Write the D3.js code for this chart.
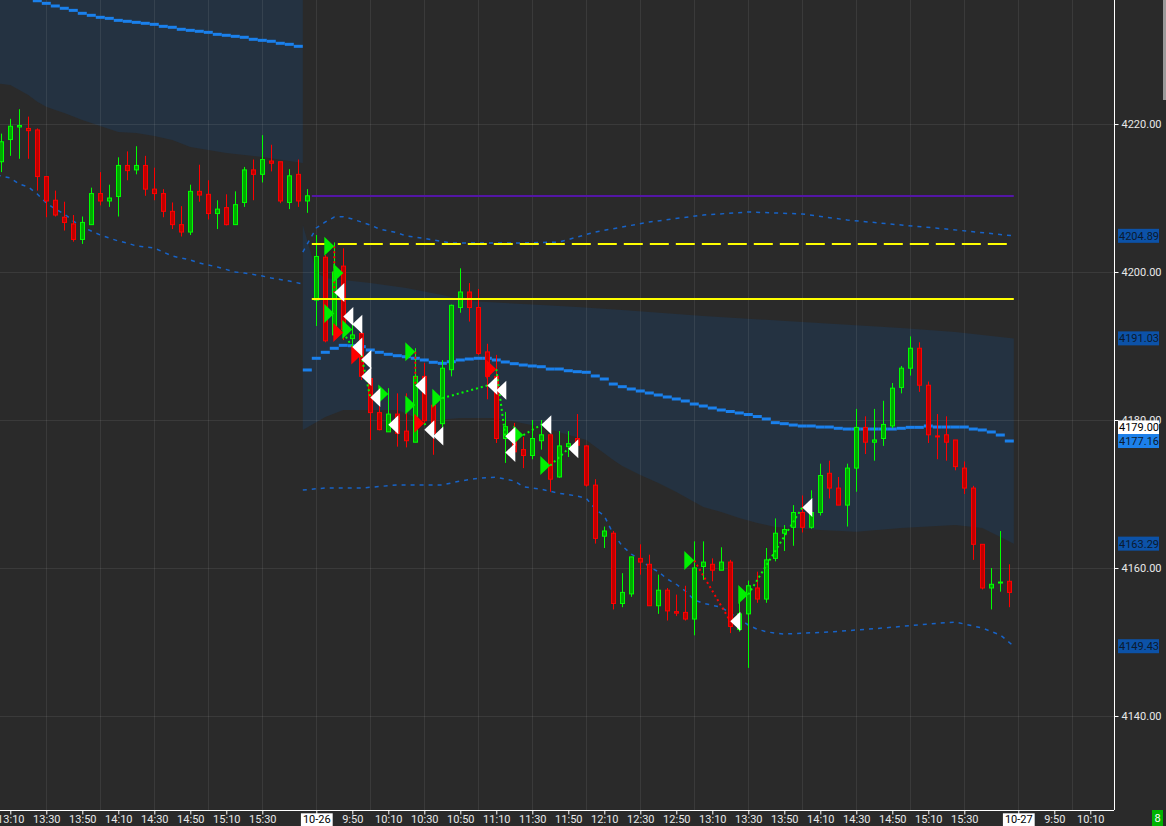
<!DOCTYPE html>
<html>
<head>
<meta charset="utf-8">
<script src="https://cdn.jsdelivr.net/npm/d3@7"></script>
<style>
  html, body { margin: 0; padding: 0; background: #2a2a2a; }
  svg { display: block; }
  .axis text { font-family: Roboto, "Noto Sans", sans-serif; font-size: 11px; fill: #e8e8e8; }
  .axis path, .axis line { stroke: #ffffff; }
  .tag { font-family: Roboto, "Noto Sans", sans-serif; font-size: 11px; }
</style>
</head>
<body>
<div class="chart"></div>
<script>
// 5 minute bars, slot 0 = 10-25 13:05, slot 35 = 10-26 09:30, slot 113 = 10-27 09:30
const open = [4214.9,4217.9,4219.6,4219.4,4219.2,4212.9,4209.7,4207.4,4206.5,4204.4,4206.4,4210.6,4209.6,4210.2,4214.4,4213.8,4214.4,4211.2,4210.6,4208.2,
  4206.4,4205.4,4210.9,4210.5,4207.9,4208.7,4206.4,4209.4,4213.8,4213.2,4215.0,4214.9,4209.4,4213.2,4209.6,
  4196.2,4202.0,4191.5,4200.8,4191.0,4191.7,4185.6,4181.0,4178.4,4180.8,4178.5,4177.0,4185.9,4182.0,4179.5,
  4186.8,4195.2,4197.3,4195.2,4189.2,4185.9,4177.5,4178.7,4176.0,4175.2,4177.2,4178.0,4172.3,4176.4,4177.5,
  4176.5,4171.2,4164.3,4164.7,4155.2,4156.5,4161.3,4160.5,4154.9,4157.0,4154.1,4154.0,4153.1,4160.2,4160.5,
  4159.7,4160.8,4151.7,4153.8,4157.3,4155.8,4161.3,4164.7,4165.5,4167.5,4165.5,4167.5,4172.8,4170.8,4168.5,
  4173.5,4179.0,4177.0,4177.5,4179.2,4184.4,4187.0,4189.7,4184.7,4177.85,4178.0,4177.3,4173.5,4170.8,4163.2,
  4157.3,4158.0,4158.2];
const high = [4218.7,4220.7,4222.0,4221.0,4219.4,4212.9,4211.0,4209.5,4207.7,4207.5,4211.4,4213.5,4211.8,4215.5,4216.3,4217.0,4215.7,4214.1,4211.2,4209.4,
  4208.9,4211.8,4214.5,4212.4,4209.7,4210.5,4210.9,4214.2,4215.2,4218.5,4217.2,4214.9,4213.9,4215.2,4211.2,
  4205.0,4202.3,4204.0,4203.2,4193.0,4192.0,4186.8,4184.5,4184.3,4183.6,4183.6,4189.7,4187.7,4183.5,4188.1,
  4195.6,4200.5,4198.5,4197.7,4190.3,4188.8,4181.1,4179.6,4177.7,4180.0,4180.0,4178.0,4178.5,4178.5,4180.8,
  4176.6,4172.0,4165.6,4165.0,4159.3,4161.5,4163.2,4161.8,4159.1,4157.3,4156.4,4157.6,4163.6,4163.6,4161.3,
  4162.8,4161.1,4156.0,4158.3,4159.5,4162.7,4166.7,4165.8,4168.5,4169.8,4170.5,4174.1,4174.5,4172.3,4174.1,
  4181.5,4180.5,4181.5,4182.6,4185.0,4187.3,4191.3,4190.5,4185.2,4180.8,4180.5,4177.3,4174.4,4171.1,4163.2,
  4160.0,4165.0,4160.5];
const low = [4213.5,4215.7,4215.3,4215.3,4211.0,4207.4,4207.5,4205.6,4204.1,4203.8,4206.4,4209.0,4208.8,4207.5,4212.4,4213.2,4210.3,4209.7,4207.4,4205.8,
  4204.8,4205.0,4209.5,4207.1,4205.8,4206.3,4206.4,4208.8,4209.7,4212.1,4213.6,4209.3,4208.5,4208.8,4208.0,
  4192.7,4190.5,4190.9,4190.8,4189.5,4185.4,4177.3,4178.6,4178.4,4176.4,4176.3,4177.0,4179.5,4175.3,4178.5,
  4185.9,4194.5,4193.3,4188.8,4182.8,4176.9,4174.2,4175.7,4173.5,4174.7,4176.0,4170.3,4172.2,4175.0,4175.5,
  4171.0,4163.3,4162.7,4154.4,4154.7,4156.1,4159.1,4154.9,4153.8,4152.9,4153.5,4152.9,4150.9,4158.4,4158.2,
  4159.7,4151.2,4151.4,4146.5,4155.3,4155.3,4160.9,4162.3,4163.0,4164.8,4165.3,4167.1,4169.4,4168.5,4165.6,
  4170.3,4175.4,4174.5,4176.5,4178.9,4183.6,4186.0,4183.8,4176.9,4174.7,4174.5,4173.2,4170.0,4161.1,4157.1,
  4154.4,4156.8,4154.7];
const close = [4217.6,4219.7,4219.8,4219.1,4212.9,4209.6,4207.7,4206.7,4204.4,4206.7,4210.6,4209.6,4210.0,4214.4,4213.7,4214.4,4211.2,4210.6,4208.2,4206.4,
  4205.4,4210.9,4210.4,4207.9,4208.5,4206.4,4209.1,4213.8,4213.2,4215.2,4214.7,4209.6,4213.0,4209.6,4210.3,
  4202.1,4190.7,4200.0,4192.2,4191.5,4185.9,4181.0,4178.7,4180.8,4178.2,4177.2,4185.9,4179.9,4178.2,4187.0,
  4195.5,4197.3,4195.2,4189.0,4185.9,4177.5,4179.1,4175.7,4175.2,4177.5,4178.0,4172.0,4176.5,4176.8,4176.6,
  4171.2,4164.0,4165.0,4155.2,4156.7,4161.5,4160.8,4154.9,4157.0,4154.2,4153.9,4153.1,4160.0,4160.8,4159.7,
  4160.8,4152.1,4153.8,4157.6,4155.8,4161.1,4164.7,4165.2,4167.5,4165.5,4167.5,4172.5,4170.8,4168.5,4173.5,
  4179.0,4177.0,4177.3,4179.4,4184.3,4187.0,4189.7,4184.7,4178.0,4177.75,4177.0,4173.7,4170.8,4163.2,4157.3,
  4157.8,4158.1,4156.7];

// session VWAP, one value per slot
const vwap1Start = 4;
const vwap1 = [4236.66,4236.31,4235.95,4235.64,4235.36,4234.96,4234.69,4234.42,4234.28,4234.01,4233.88,4233.74,4233.61,4233.47,4233.20,
  4233.07,4232.80,4232.66,4232.53,4232.39,4232.12,4231.99,4231.85,4231.72,4231.45,4231.31,4231.18,4230.91,4230.77,4230.50];
const vwap2Start = 34;
const vwap2 = [4186.76,4188.34,4189.15,4189.69,4190.09,4190.04,4189.91,4189.46,4189.15,4188.88,4188.69,4188.55,4188.34,4188.11,4187.80,
  4187.66,4187.88,4188.11,4188.24,4188.34,4188.34,4188.11,4187.84,4187.61,4187.43,4187.30,4187.20,4186.89,4186.89,4186.66,
  4186.53,4186.45,4185.95,4185.54,4184.86,4184.50,4184.19,4183.92,4183.65,4183.38,4183.11,4182.84,4182.57,4182.16,4181.89,
  4181.62,4181.35,4181.15,4180.95,4180.74,4180.47,4180.14,4179.64,4179.50,4179.32,4179.19,4179.19,4179.05,4179.05,4178.88,
  4178.78,4178.78,4178.78,4178.78,4178.78,4178.78,4178.88,4179.01,4179.01,4179.19,4179.05,4179.05,4179.05,4179.05,4178.78,
  4178.65,4178.38,4177.97,4177.16];

// bands, read at some slots
const day1LowSlots = [0,1,2,3,4,5,6,7,9,13,15,17,19,21,25,29,33];
const day1Low = [4225.50,4225.27,4224.59,4223.92,4223.01,4222.34,4221.89,4221.49,4220.54,4218.92,4218.78,4218.38,4217.84,4216.89,4216.08,4215.54,4214.73];
const day1Low2Slots = [0,1,2,3,4,5,6,7,8,9,10,11,12,13,14,15,17,18,19,21,22,24,26,27,29,30,32,33];
const day1Low2 = [4213.11,4212.70,4211.89,4211.49,4210.54,4209.32,4208.51,4207.84,4206.89,4206.08,4205.54,4205.00,4204.59,4204.19,
  4203.92,4203.51,4203.24,4202.70,4202.16,4201.62,4201.22,4200.68,4200.00,4199.86,4199.46,4199.19,4198.78,4198.38];

const up1Slots = [34,35,36,38,41,45,49,52,56,60,64,69,78,89,100,106,112];
const up1 = [4206.35,4200.00,4199.19,4198.92,4198.51,4197.84,4196.89,4196.08,4195.81,4195.54,4195.27,4194.86,4194.05,4193.24,4192.43,4191.89,4191.03];
const lo1Slots = [34,36,38,44,47,51,55,60,65,68,69,71,73,75,77,78,80,82,84,86,88,91,95,100,106,109,111,112];
const lo1 = [4178.65,4180.41,4181.35,4181.35,4179.86,4180.27,4180.27,4179.05,4177.30,4174.59,4173.78,4172.57,4171.49,4170.27,
  4168.92,4168.24,4167.57,4166.76,4166.08,4165.54,4165.41,4165.14,4164.91,4165.41,4165.81,4165.41,4164.19,4163.29];
const up2Slots = [34,35,36,37,38,39,40,41,42,44,45,47,48,50,53,58,62,66,72,78,83,89,94,100,105,112];
const up2 = [4202.70,4205.95,4206.76,4207.43,4207.47,4207.16,4206.76,4206.35,4205.81,4205.31,4204.86,4204.55,4204.32,
  4203.92,4203.92,4203.92,4204.05,4205.41,4206.76,4207.70,4208.11,4207.84,4207.03,4206.35,4205.81,4204.89];
const lo2Slots = [34,36,40,44,49,51,53,55,57,58,60,62,64,65,66,67,68,69,70,71,72,73,74,75,76,77,78,79,80,81,83,84,85,86,87,92,98,103,106,109,111,112];
const lo2 = [4170.54,4170.81,4170.81,4171.22,4171.22,4171.76,4172.12,4172.26,4171.76,4170.99,4170.64,4170.09,4169.73,4169.42,
  4167.97,4167.03,4164.59,4162.97,4161.89,4161.08,4160.18,4159.50,4158.51,4157.80,4156.89,4155.68,4155.23,4154.96,4154.69,
  4153.88,4152.30,4151.72,4151.39,4151.18,4151.08,4151.35,4151.89,4152.43,4152.70,4151.89,4150.95,4149.43];

// price levels
const purpleLevel = 4210.27;
const yellowDashLevel = 4203.78;
const yellowLevel = 4196.35;

// trade markers
const longBars = [37,38,37,39,43,46,46,49,58,61,77,83];
const longPrices = [4203.47,4199.86,4194.39,4192.23,4183.51,4189.23,4182.03,4182.95,4177.97,4173.85,4161.01,4156.42];
const shortBars = [38,40,47,55];
const shortPrices = [4191.82,4188.78,4179.55,4186.86];
const exitBars = [37,38,39,39,40,40,41,46,43,47,48,54,55,56,56,60,63,81,89];
const exitPrices = [4197.23,4193.99,4192.93,4189.86,4188.18,4185.88,4183.04,4184.66,4179.35,4178.69,4177.84,4184.66,4184.01,
  4177.80,4175.61,4179.36,4176.12,4152.81,4168.18];
// [entry bar, entry price, exit bar, exit price, win]
const trades = [[37,4203.47,37,4197.23,0],[38,4191.82,39,4189.86,1],[40,4188.78,41,4183.04,1],[46,4189.23,46,4184.66,0],
  [47,4179.55,48,4177.84,1],[49,4182.95,54,4184.66,1],[55,4186.86,56,4177.80,1],[58,4177.97,60,4179.36,1],
  [61,4173.85,63,4176.12,1],[77,4161.01,81,4152.81,0],[83,4156.42,89,4168.18,1]];

const yTicks = [4140, 4160, 4180, 4200, 4220];
const tickSlots = [1,5,9,13,17,21,25,29,35,39,43,47,51,55,59,63,67,71,75,79,83,87,91,95,99,103,107,113,117,121];
const tickLabels = ['13:10','13:30','13:50','14:10','14:30','14:50','15:10','15:30','10-26','9:50','10:10','10:30','10:50',
  '11:10','11:30','11:50','12:10','12:30','12:50','13:10','13:30','13:50','14:10','14:30','14:50','15:10','15:30','10-27','9:50','10:10'];
const dateSlots = [35, 113];
const gridSlots = d3.range(5, 122, 6);

const tagValues = [4204.89, 4191.03, 4179.00, 4177.16, 4163.29, 4149.43];
const tagFills = ['#0c52a8', '#0c52a8', '#ffffff', '#1c80ea', '#0c52a8', '#0c52a8'];

const width = 1166, height = 826;
const plotRight = 1114, plotBottom = 810;

const svg = d3.select('.chart')
  .append('svg')
  .attr('width', width)
  .attr('height', height);

svg.append('rect').attr('width', width).attr('height', height).attr('fill', '#2a2a2a');

svg.append('clipPath').attr('id', 'plot')
  .append('rect').attr('width', plotRight).attr('height', plotBottom);

const xScale = d3.scaleLinear().domain([0, 123.5]).range([1.3, 1112.8]);
const yScale = d3.scaleLinear().domain([4127.43, 4236.76]).range([809, 0]);

const g = svg.append('g').attr('clip-path', 'url(#plot)');

const line = d3.line().x(d => xScale(d[0])).y(d => yScale(d[1]));

// point list with the two ends pushed out to the slot edges
function withEdges(slots, vals) {
  return slots.map((s, i) => [i === 0 ? s - 0.5 : (i === slots.length - 1 ? s + 0.5 : s), vals[i]]);
}

// band fills
const yTop = yScale.domain()[1];
const day1Band = [[-0.5, yTop], [33.5, yTop]].concat(withEdges(day1LowSlots, day1Low).reverse());
g.append('path')
  .attr('d', line(day1Band) + 'Z')
  .attr('fill', '#243241');

const day2Band = withEdges(up1Slots, up1).concat(withEdges(lo1Slots, lo1).reverse());
g.append('path')
  .attr('d', line(day2Band) + 'Z')
  .attr('fill', '#243241');

// grid
g.selectAll('.vgrid')
  .data(gridSlots)
  .enter()
  .append('line')
  .attr('x1', d => Math.round(xScale(d)) + 0.5)
  .attr('x2', d => Math.round(xScale(d)) + 0.5)
  .attr('y1', 0)
  .attr('y2', plotBottom)
  .attr('stroke', 'rgba(255,255,255,0.08)');

g.selectAll('.hgrid')
  .data(yTicks)
  .enter()
  .append('line')
  .attr('x1', 0)
  .attr('x2', plotRight)
  .attr('y1', d => Math.round(yScale(d)) + 0.5)
  .attr('y2', d => Math.round(yScale(d)) + 0.5)
  .attr('stroke', 'rgba(255,255,255,0.08)');

// outer bands, dashed
[[day1Low2Slots, day1Low2], [up2Slots, up2], [lo2Slots, lo2]].forEach(b => {
  g.append('path')
    .attr('d', line(withEdges(b[0], b[1])))
    .attr('fill', 'none')
    .attr('stroke', '#1763c8')
    .attr('stroke-width', 1.5)
    .attr('stroke-dasharray', '4,5');
});

// vwap blocks
function drawVwap(start, vals) {
  g.append('g').selectAll('rect')
    .data(vals)
    .enter()
    .append('rect')
    .attr('x', (d, i) => xScale(start + i - 0.5))
    .attr('width', 9)
    .attr('y', d => yScale(d) - 1.5)
    .attr('height', 3)
    .attr('fill', '#1a80ec');
}
drawVwap(vwap1Start, vwap1);
drawVwap(vwap2Start, vwap2);

// candles
const candles = g.append('g').selectAll('g')
  .data(d3.range(open.length))
  .enter()
  .append('g');

const cx = i => Math.round(xScale(i)) + 0.5;
const up = i => close[i] >= open[i];

candles.append('line')
  .attr('x1', cx).attr('x2', cx)
  .attr('y1', i => yScale(high[i]))
  .attr('y2', i => yScale(low[i]))
  .attr('stroke', i => up(i) ? '#00ff00' : '#ff0000');

candles.append('rect')
  .attr('x', i => cx(i) - 2)
  .attr('width', 4)
  .attr('y', i => yScale(Math.max(open[i], close[i])))
  .attr('height', i => Math.max(1, yScale(Math.min(open[i], close[i])) - yScale(Math.max(open[i], close[i]))))
  .attr('fill', i => up(i) ? '#00a800' : '#c00000')
  .attr('stroke', i => up(i) ? '#00ff00' : '#ff0000');

// levels
const lx1 = xScale(34.5), lx2 = xScale(112.5);
g.append('line').attr('x1', lx1).attr('x2', lx2)
  .attr('y1', yScale(purpleLevel)).attr('y2', yScale(purpleLevel))
  .attr('stroke', '#5316a6').attr('stroke-width', 2);
g.append('line').attr('x1', lx1).attr('x2', lx2)
  .attr('y1', yScale(yellowDashLevel)).attr('y2', yScale(yellowDashLevel))
  .attr('stroke', '#ffff00').attr('stroke-width', 2).attr('stroke-dasharray', '19,7');
g.append('line').attr('x1', lx1).attr('x2', lx2)
  .attr('y1', yScale(yellowLevel)).attr('y2', yScale(yellowLevel))
  .attr('stroke', '#ffff00').attr('stroke-width', 2);

// trade lines
g.selectAll('.trade')
  .data(trades)
  .enter()
  .append('line')
  .attr('x1', d => xScale(d[0])).attr('y1', d => yScale(d[1]))
  .attr('x2', d => xScale(d[2])).attr('y2', d => yScale(d[3]))
  .attr('stroke', d => d[4] ? '#00ff00' : '#ff0000')
  .attr('stroke-width', 2)
  .attr('stroke-dasharray', '2,3');

// markers
const rightTri = (x, y) => `M${x - 10},${y - 9.5}L${x},${y}L${x - 10},${y + 9.5}Z`;
const leftTri = (x, y) => `M${x + 10},${y - 9.5}L${x},${y}L${x + 10},${y + 9.5}Z`;

g.selectAll('.long')
  .data(longBars)
  .enter()
  .append('path')
  .attr('d', (d, i) => rightTri(xScale(d), yScale(longPrices[i])))
  .attr('fill', '#00f000');

g.selectAll('.short')
  .data(shortBars)
  .enter()
  .append('path')
  .attr('d', (d, i) => rightTri(xScale(d), yScale(shortPrices[i])))
  .attr('fill', '#ff0000');

g.selectAll('.exit')
  .data(exitBars)
  .enter()
  .append('path')
  .attr('d', (d, i) => leftTri(xScale(d), yScale(exitPrices[i])))
  .attr('fill', '#ffffff');

// axes
const yAxis = d3.axisRight(yScale)
  .tickValues(yTicks)
  .tickFormat(d3.format('.2f'))
  .tickSize(4)
  .tickSizeOuter(0);

svg.append('g')
  .attr('class', 'axis y-axis')
  .attr('transform', `translate(${plotRight + 0.5},0)`)
  .call(yAxis)
  .call(a => a.select('.domain').attr('d', `M0,0V${plotBottom}`));

const xAxis = d3.axisBottom(xScale)
  .tickValues(tickSlots)
  .tickFormat((d, i) => tickLabels[i])
  .tickSize(4)
  .tickPadding(1)
  .tickSizeOuter(0);

const xg = svg.append('g')
  .attr('class', 'axis x-axis')
  .attr('transform', `translate(0,${plotBottom + 0.5})`)
  .call(xAxis)
  .call(a => a.select('.domain').attr('d', `M0,0H${plotRight}`));

xg.selectAll('.tick')
  .filter(d => dateSlots.includes(d))
  .each(function() {
    const t = d3.select(this).select('text');
    const b = t.node().getBBox();
    d3.select(this).insert('rect', 'text')
      .attr('x', b.x - 2).attr('y', b.y)
      .attr('width', b.width + 4).attr('height', b.height + 2)
      .attr('fill', '#ffffff');
    t.style('fill', '#000000');
  });

// price tags on the right axis
const tags = svg.append('g').selectAll('g')
  .data(tagValues)
  .enter()
  .append('g')
  .attr('transform', d => `translate(1118,${yScale(d)})`);

tags.append('rect')
  .attr('x', 0).attr('y', -7)
  .attr('width', 41).attr('height', 14)
  .attr('fill', (d, i) => tagFills[i]);

tags.append('text')
  .attr('class', 'tag')
  .attr('x', 1).attr('y', 4)
  .attr('fill', (d, i) => tagFills[i] === '#ffffff' ? '#000000' : '#0b1a30')
  .text(d => d3.format('.2f')(d));

// corner box
svg.append('rect').attr('x', 1152).attr('y', 810).attr('width', 11).attr('height', 16).attr('fill', '#00b400');
svg.append('text').attr('class', 'tag').attr('x', 1157.5).attr('y', 822)
  .attr('text-anchor', 'middle').attr('fill', '#ffffff').text('8');
svg.append('rect').attr('x', 1163).attr('y', 0).attr('width', 3).attr('height', 100).attr('fill', '#9a9a9a');
</script>
</body>
</html>
